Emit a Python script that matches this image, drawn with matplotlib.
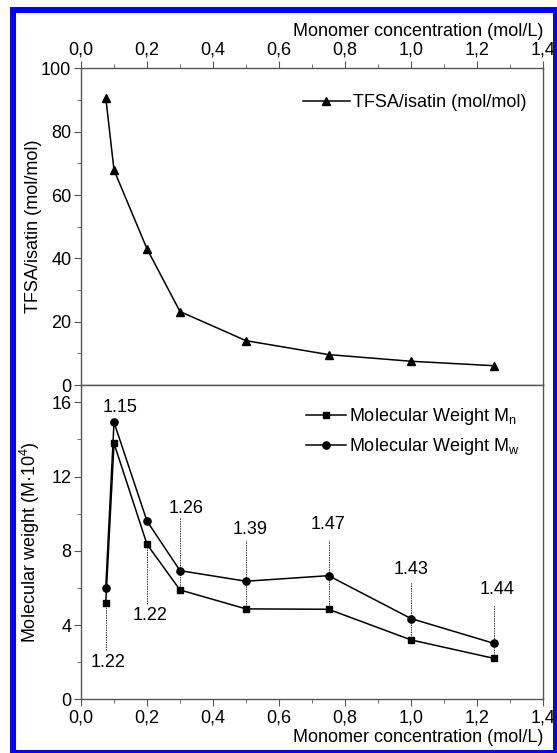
import matplotlib
matplotlib.use('Agg')
import matplotlib.pyplot as plt
from matplotlib.patches import Rectangle
from matplotlib.ticker import FuncFormatter, MultipleLocator

plt.rcParams['font.family'] = ['Liberation Sans', 'DejaVu Sans']
plt.rcParams['mathtext.default'] = 'regular'

conc = [0.075, 0.1, 0.2, 0.3, 0.5, 0.75, 1.0, 1.25]
tfsa_ratio = [90.8, 67.9, 43.0, 23.2, 14.0, 9.6, 7.5, 6.1]
mn = [5.17, 13.79, 8.35, 5.89, 4.87, 4.85, 3.2, 2.21]
mw = [6.0, 14.92, 9.6, 6.93, 6.36, 6.66, 4.35, 3.02]

# PDI labels: text, label x, label y, dotted line top, dotted line bottom
pdi_text = ['1.22', '1.15', '1.22', '1.26', '1.39', '1.47', '1.43', '1.44']
pdi_x = [0.082, 0.119, 0.209, 0.318, 0.512, 0.750, 1.0, 1.26]
pdi_y = [1.96, 15.73, 4.49, 10.3, 9.12, 9.39, 7.0, 5.89]
line_top = [5.17, None, 8.35, 9.8, 8.58, 8.58, 6.34, 5.08]
line_bot = [2.65, None, 5.13, 5.89, 4.87, 4.85, 3.2, 2.21]

W, H = 557, 753
fig = plt.figure(figsize=(W / 100, H / 100), dpi=100)

x0, x1 = 81, 543
ax_top = fig.add_axes([x0 / W, 1 - 385 / H, (x1 - x0) / W, (385 - 68.4) / H])
ax_bot = fig.add_axes([x0 / W, 1 - 699.3 / H, (x1 - x0) / W, (699.3 - 385) / H])

comma = FuncFormatter(lambda v, p: f'{v:.1f}'.replace('.', ','))
spine_col = '#555555'
fs = 13

for ax in (ax_top, ax_bot):
    ax.set_xlim(0, 1.4)
    ax.xaxis.set_major_locator(MultipleLocator(0.2))
    ax.xaxis.set_minor_locator(MultipleLocator(0.1))
    ax.xaxis.set_major_formatter(comma)
    for s in ax.spines.values():
        s.set_color(spine_col)
        s.set_linewidth(1.0)
    ax.tick_params(which='both', direction='out', color=spine_col, labelsize=fs, right=False, pad=2)
    ax.tick_params(which='major', length=5)
    ax.tick_params(which='minor', length=3)

# top panel
ax_top.plot(conc, tfsa_ratio, color='black', lw=1.1, marker='^', ms=6,
            label='TFSA/isatin (mol/mol)')
ax_top.set_ylim(0, 100)
ax_top.yaxis.set_major_locator(MultipleLocator(20))
ax_top.yaxis.set_minor_locator(MultipleLocator(10))
ax_top.tick_params(axis='x', which='both', top=True, bottom=False, labeltop=True, labelbottom=False)
ax_top.set_ylabel('TFSA/isatin (mol/mol)', fontsize=fs)
ax_top.yaxis.set_label_coords(-0.085, 0.5)
ax_top.set_xlabel('Monomer concentration (mol/L)', fontsize=fs, loc='right', labelpad=4)
ax_top.xaxis.set_label_position('top')
ax_top.legend(loc='upper right', bbox_to_anchor=(1.0, 0.97), frameon=False, fontsize=fs,
              handlelength=2.6, handletextpad=0.2)

# bottom panel
ax_bot.plot(conc, mn, color='black', lw=1.1, marker='s', ms=4.8, label='Molecular Weight M$_n$')
ax_bot.plot(conc, mw, color='black', lw=1.1, marker='o', ms=5.2, label='Molecular Weight M$_w$')
ax_bot.set_ylim(0, 16.93)
ax_bot.yaxis.set_major_locator(MultipleLocator(4))
ax_bot.yaxis.set_minor_locator(MultipleLocator(2))
ax_bot.tick_params(axis='x', which='both', top=False, bottom=True)
ax_bot.set_ylabel('Molecular weight (M·10$^4$)', fontsize=fs)
ax_bot.yaxis.set_label_coords(-0.085, 0.5)
ax_bot.set_xlabel('Monomer concentration (mol/L)', fontsize=fs, loc='right', labelpad=2)
ax_bot.legend(loc='upper right', bbox_to_anchor=(0.985, 0.985), frameon=False, fontsize=fs,
              handlelength=2.2, handletextpad=0.2, labelspacing=0.5)

for i, t in enumerate(pdi_text):
    ax_bot.text(pdi_x[i], pdi_y[i], t, fontsize=fs, ha='center', va='center')
    if line_top[i] is not None:
        ax_bot.plot([conc[i], conc[i]], [line_bot[i], line_top[i]], color='#333333',
                    lw=0.7, ls=(0, (1.5, 1.0)), zorder=1)

# blue frame
fig.patches.append(Rectangle((13 / W, 0.0), (556 - 13) / W, 1 - 10 / H,
                             transform=fig.transFigure, fill=False,
                             edgecolor='#0000ff', linewidth=4.3))

fig.savefig('out.png', dpi=100)
